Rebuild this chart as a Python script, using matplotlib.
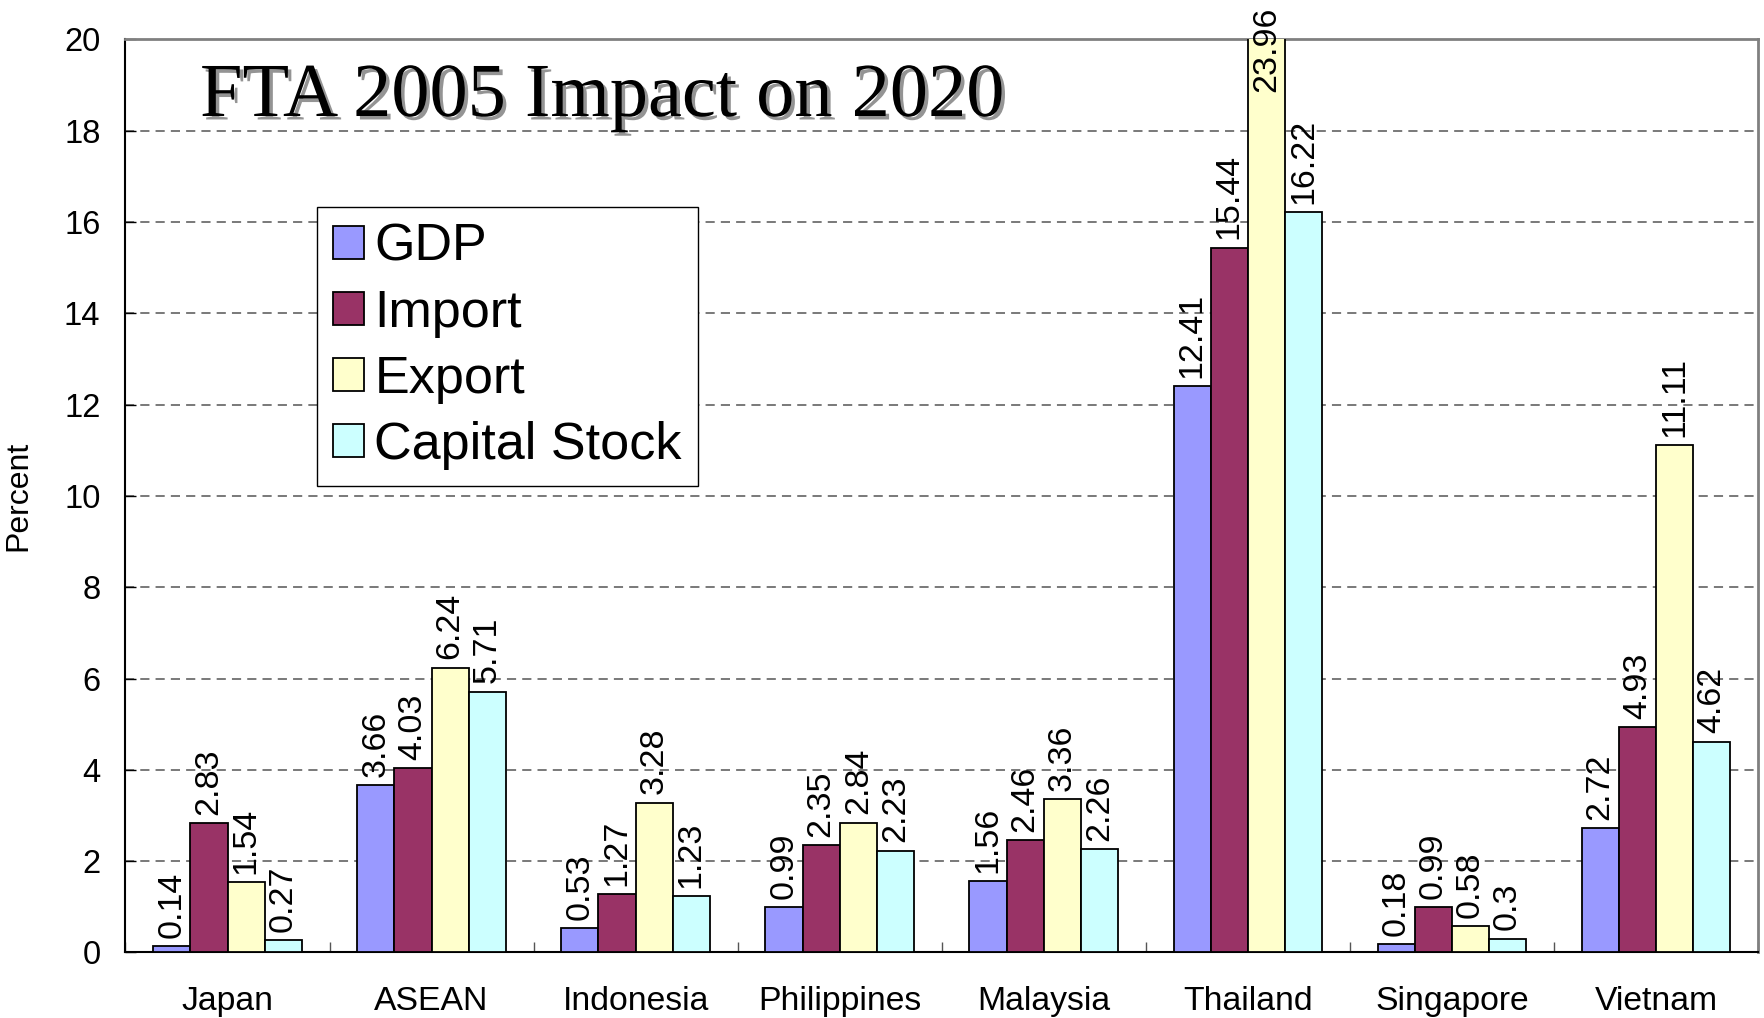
import matplotlib
matplotlib.use("Agg")
import matplotlib.pyplot as plt
import matplotlib.patheffects as pe
import numpy as np

# data
countries = ["Japan", "ASEAN", "Indonesia", "Philippines", "Malaysia",
             "Thailand", "Singapore", "Vietnam"]
gdp = [0.14, 3.66, 0.53, 0.99, 1.56, 12.41, 0.18, 2.72]
imports = [2.83, 4.03, 1.27, 2.35, 2.46, 15.44, 0.99, 4.93]
exports = [1.54, 6.24, 3.28, 2.84, 3.36, 23.96, 0.58, 11.11]
capital = [0.27, 5.71, 1.23, 2.23, 2.26, 16.22, 0.3, 4.62]
series_names = ["GDP", "Import", "Export", "Capital Stock"]
yticks = [0, 2, 4, 6, 8, 10, 12, 14, 16, 18, 20]

colors = ["#9999FF", "#993366", "#FFFFCC", "#CCFFFF"]

plt.rcParams['font.family'] = ['Liberation Sans', 'DejaVu Sans']

fig = plt.figure(figsize=(17.65, 10.18), dpi=100)
ax = fig.add_axes([0.0711, 0.0644, 0.996 - 0.0711, 0.9613 - 0.0644])

ymax = 20
bw = 0.182
x = np.arange(len(countries)) + 0.5
all_series = [gdp, imports, exports, capital]

for k, vals in enumerate(all_series):
    pos = x + (k - 1.5) * bw
    ax.bar(pos, vals, width=bw, color=colors[k], edgecolor="black",
           linewidth=1.3, label=series_names[k], zorder=3)
    for xp, v in zip(pos, vals):
        txt = "%g" % v
        if v > ymax:
            # value goes past the axis top: label sits at the top edge
            ax.text(xp, ymax - 0.22, txt, rotation=90, ha="center", va="center",
                    fontsize=24.5, zorder=5, clip_on=False)
        else:
            ax.annotate(txt, (xp, v), xytext=(0, 6), textcoords="offset points",
                        rotation=90, ha="center", va="bottom", fontsize=24.5,
                        zorder=5)

ax.set_xlim(0, len(countries))
ax.set_ylim(0, ymax)
ax.set_yticks(yticks)
ax.set_xticks(x)
ax.set_xticklabels(countries, fontsize=24.3)
ax.set_xticks(np.arange(0, len(countries) + 1), minor=True)
ax.tick_params(axis="x", which="major", length=0, pad=24)
ax.tick_params(axis="x", which="minor", direction="in", length=7, width=1,
               color="#555555")
ax.tick_params(axis="y", direction="in", length=8, width=1, labelsize=23.5,
               pad=18)
ax.set_ylabel("Percent", fontsize=23, labelpad=4)
ax.yaxis.set_label_coords(-0.0565, 0.5)

ax.grid(axis="y", linestyle=(0, (6, 4)), color="#555555", linewidth=1.1,
        zorder=0)
ax.set_axisbelow(True)

ax.spines["left"].set_color("black")
ax.spines["left"].set_linewidth(1.5)
ax.spines["bottom"].set_color("black")
ax.spines["bottom"].set_linewidth(1.5)
ax.spines["top"].set_color("#808080")
ax.spines["top"].set_linewidth(2)
ax.spines["right"].set_color("#808080")
ax.spines["right"].set_linewidth(2)

leg = ax.legend(loc="upper left", bbox_to_anchor=(0.1174, 0.8164),
                borderaxespad=0, fontsize=37.5, frameon=True, fancybox=False,
                edgecolor="black", framealpha=1, handlelength=0.6,
                handleheight=0.6, handletextpad=0.2, labelspacing=0.33,
                borderpad=0.3)
leg.get_frame().set_linewidth(1.0)

fig.text(200 / 1765, 1 - 116 / 1018, "FTA 2005 Impact on 2020",
         family="Liberation Serif", fontsize=55, ha="left", va="baseline",
         path_effects=[pe.withSimplePatchShadow(offset=(2.5, -2.5),
                                                shadow_rgbFace="#888888",
                                                alpha=0.9)])

fig.savefig("out.png", dpi=100)
